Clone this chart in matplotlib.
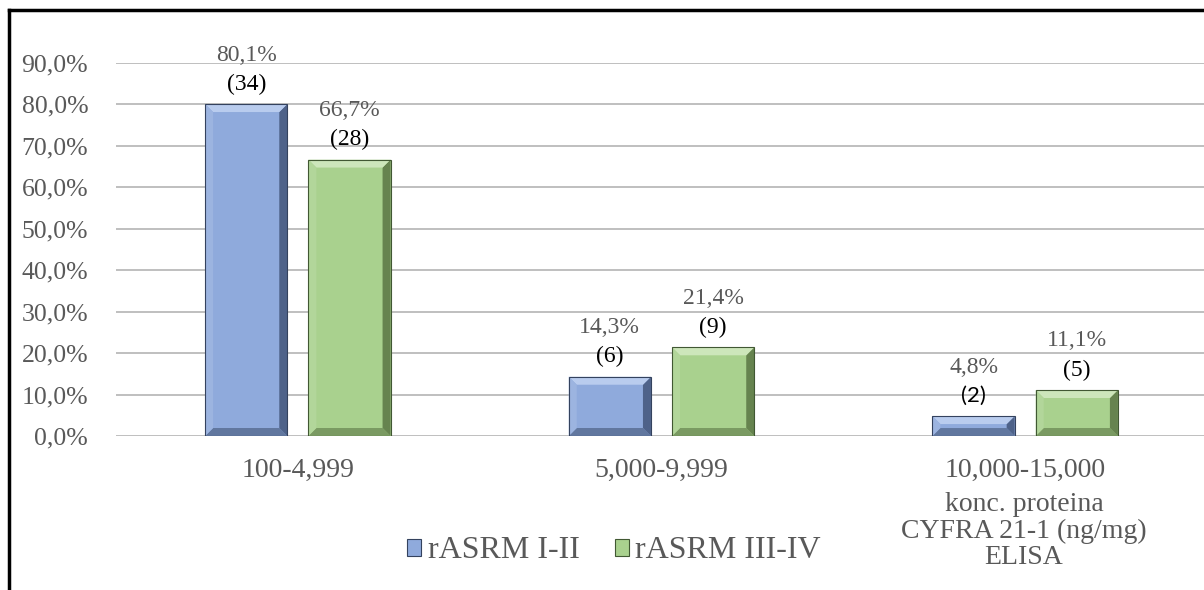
import matplotlib
matplotlib.use("Agg")
import matplotlib.pyplot as plt
from matplotlib.patches import Polygon, Patch
from matplotlib.lines import Line2D
import numpy as np

categories = ["100-4,999", "5,000-9,999", "10,000-15,000"]
series_names = ["rASRM I-II", "rASRM III-IV"]
values_1 = [80.1, 14.3, 4.8]
values_2 = [66.7, 21.4, 11.1]
counts_1 = [34, 6, 2]
counts_2 = [28, 9, 5]
pct_labels_1 = ["80,1%", "14,3%", "4,8%"]
pct_labels_2 = ["66,7%", "21,4%", "11,1%"]
yticks = [0, 10, 20, 30, 40, 50, 60, 70, 80, 90]
ytick_labels = ["0,0%", "10,0%", "20,0%", "30,0%", "40,0%", "50,0%",
                "60,0%", "70,0%", "80,0%", "90,0%"]
axis_title = "konc. proteina\nCYFRA 21-1 (ng/mg)\nELISA"

SERIF = ["Liberation Serif", "DejaVu Serif"]
plt.rcParams["font.family"] = SERIF

W, H = 1204, 590
fig = plt.figure(figsize=(W / 100, H / 100), dpi=100)
ax = fig.add_axes([116 / W, (H - 436) / H, (1207 - 116) / W, (436 - 63) / H])
ax.set_xlim(-0.5, 2.5)
ax.set_ylim(0, 90)

blue = "#8FAADC"
green = "#A9D18E"
bevels = {
    "blue": dict(top="#B9CCEE", left="#9CB4E0", right="#4E6289", bottom="#61779F", edge="#34425E"),
    "green": dict(top="#CDE6BB", left="#B2D69A", right="#66834F", bottom="#7A9A62", edge="#415833"),
}

x = np.arange(len(categories))
bw = 0.226
off = 0.142
bars1 = ax.bar(x - off, values_1, bw, color=blue, zorder=3)
bars2 = ax.bar(x + off, values_2, bw, color=green, zorder=3)

ax.set_yticks(yticks)
ax.set_yticklabels(ytick_labels)
ax.set_xticks(x)
ax.set_xticklabels(categories)
ax.tick_params(axis="y", length=0, pad=20, labelsize=18.5, labelcolor="#595959")
ax.tick_params(axis="x", length=0, pad=16, labelsize=20, labelcolor="#595959")
ax.grid(axis="y", color="#BFBFBF", lw=1.4, zorder=0)
ax.set_axisbelow(True)
for s in ax.spines.values():
    s.set_visible(False)

# bevel effect, computed from each bar's geometry
fig.canvas.draw()
inv = ax.transData.inverted()
bev = 8
for bars, key in ((bars1, "blue"), (bars2, "green")):
    c = bevels[key]
    for p in bars:
        x0, y0 = p.get_x(), p.get_y()
        x1, y1 = x0 + p.get_width(), y0 + p.get_height()
        (px0, py0), (px1, py1) = ax.transData.transform([(x0, y0), (x1, y1)])
        b = min(bev, (py1 - py0) / 2.5)
        outer = [(px0, py0), (px1, py0), (px1, py1), (px0, py1)]
        inner = [(px0 + b, py0 + b), (px1 - b, py0 + b), (px1 - b, py1 - b), (px0 + b, py1 - b)]
        sides = {
            "bottom": [outer[0], outer[1], inner[1], inner[0]],
            "right": [outer[1], outer[2], inner[2], inner[1]],
            "top": [outer[2], outer[3], inner[3], inner[2]],
            "left": [outer[3], outer[0], inner[0], inner[3]],
        }
        for k, pts in sides.items():
            ax.add_patch(Polygon(inv.transform(pts), closed=True, facecolor=c[k],
                                 edgecolor="none", zorder=4))
        ax.add_patch(Polygon(inv.transform(outer), closed=True, facecolor="none",
                             edgecolor=c["edge"], lw=0.8, zorder=5))

# data labels
for bars, pcts, cnts in ((bars1, pct_labels_1, counts_1), (bars2, pct_labels_2, counts_2)):
    for p, pl, cn in zip(bars, pcts, cnts):
        cx = p.get_x() + p.get_width() / 2
        top = p.get_height()
        ax.annotate(pl, (cx, top), xytext=(0, 49), textcoords="offset pixels",
                    ha="center", va="center", fontsize=17, color="#595959", annotation_clip=False)
        fam = ["Lato", "DejaVu Sans"] if cn == 2 else SERIF
        ax.annotate(f"({cn})", (cx, top), xytext=(0, 20), textcoords="offset pixels",
                    ha="center", va="center", fontsize=17 if cn != 2 else 16, color="black",
                    family=fam, annotation_clip=False)

# axis title below last category
fig.text(1024 / W, 1 - 531 / H, axis_title, ha="center", va="center", fontsize=20,
         color="#595959", linespacing=1.1)

# legend
handles = [Patch(facecolor=blue, edgecolor="#34425E", lw=0.8),
           Patch(facecolor=green, edgecolor="#415833", lw=0.8)]
fig.legend(handles, series_names, loc="center", bbox_to_anchor=(614 / W, 1 - 551 / H),
           ncol=2, frameon=False, fontsize=23, handlelength=0.45, handleheight=0.45,
           handletextpad=0.2, columnspacing=1.1, labelcolor="#595959")

# border lines of the original frame
fig.add_artist(Line2D([9 / W, 1], [1 - 9.5 / H, 1 - 9.5 / H], color="black", lw=2.5))
fig.add_artist(Line2D([9 / W, 9 / W], [0, 1 - 9.5 / H], color="black", lw=2.5))

fig.savefig("out.png", dpi=100)
